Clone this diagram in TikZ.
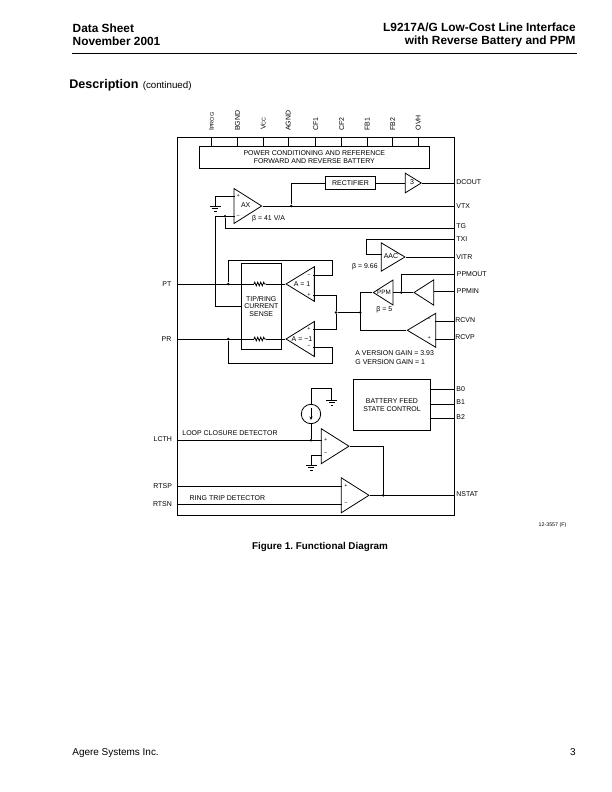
\documentclass[tikz,border=0pt]{standalone}
\usepackage{fontspec}
\setmainfont{Liberation Sans}
\usetikzlibrary{arrows.meta, positioning, decorations.pathmorphing, shapes.geometric}
\newcommand{\lblfont}{\fontsize{7}{8}\selectfont}
\newcommand{\subfont}{\fontsize{5.5}{6}\selectfont}
\frenchspacing

\begin{document}
\begin{tikzpicture}[
    x=1bp, y=-1bp,
    line width=0.8bp,
    block/.style={rectangle, draw, inner sep=0pt, align=center, font=\lblfont},
    lbl/.style={inner sep=0pt, align=left, font=\lblfont},
    sign/.style={inner sep=0pt, font=\subfont},
    toppin/.style={rotate=90, anchor=west, inner sep=0pt, font=\lblfont},
    rightpin/.style={inner sep=0pt, font=\lblfont},
    leftpin/.style={inner sep=0pt, font=\lblfont, anchor=east},
    ampr/.style={draw, isosceles triangle, isosceles triangle stretches, inner sep=0pt, anchor=apex},
    ampl/.style={ampr, shape border rotate=180},
    dot/.style={circle, fill=black, inner sep=0pt, minimum size=2.8bp},
    res/.style={decorate, decoration={zigzag, segment length=3bp, amplitude=1.8bp}},
    arrow/.style={-{Stealth[length=3.5bp, width=3bp]}},
    gnd/.pic={
        \draw (-5.3,0) -- (5.3,0);
        \draw (-3,2.6) -- (3,2.6);
        \draw (-1.2,5.2) -- (1.2,5.2);
    }
]
    \useasboundingbox (0,0) rectangle (612,792);

    % page head
    \node[anchor=west, inner sep=0pt, align=left, font=\fontsize{11.9}{12.8}\selectfont\bfseries] (head) at (72.3,35) {Data Sheet\\November 2001};
    \node[anchor=east, inner sep=0pt, align=right, font=\fontsize{11.9}{12.8}\selectfont\bfseries] (title) at (576,35) {L9217A/G Low-Cost Line Interface\\with Reverse Battery and PPM};
    \coordinate (rulel) at (72,53.6);
    \coordinate (ruler) at (577,53.6);
    \draw[line width=0.8bp] (rulel) -- (ruler);
    \node[anchor=west, inner sep=0pt, font=\fontsize{12.6}{14}\selectfont\bfseries] (desc) at (69,85.7) {Description};
    \node[right=3.5bp of desc, inner sep=0pt, font=\fontsize{9.8}{11}\selectfont] (cont) {(continued)};

    % outer frame and top blocks
    \node[block, anchor=north west, minimum width=277bp, minimum height=378.3bp] (frame) at (176.5,136.7) {};
    \node[block, minimum width=230bp, minimum height=22bp] (power) at (314.3,157.3) {POWER CONDITIONING AND REFERENCE\\FORWARD AND REVERSE BATTERY};
    \node[block, minimum width=50.4bp, minimum height=13bp] (rectifier) at (350.5,183) {RECTIFIER};
    \node[block, minimum width=40bp, minimum height=85.6bp] (sense) at (261.3,306.5) {TIP/RING\\CURRENT\\SENSE};
    \node[block, minimum width=77.4bp, minimum height=51bp] (battery) at (392,404.8) {BATTERY FEED\\STATE CONTROL};

    % top pins
    \coordinate (iprog) at (211.5,136.7);
    \coordinate (bgnd) at (237.5,136.7);
    \coordinate (vcc) at (263.3,136.7);
    \coordinate (agnd) at (288.3,136.7);
    \coordinate (cfa) at (315.7,136.7);
    \coordinate (cfb) at (341.7,136.7);
    \coordinate (fba) at (367.3,136.7);
    \coordinate (fbb) at (392.7,136.7);
    \coordinate (ovh) at (418.3,136.7);
    \node[above=5.5bp of iprog, toppin] (iprogl) {I{\subfont PROG}};
    \node[above=5.5bp of bgnd, toppin] (bgndl) {BGND};
    \node[above=6.5bp of vcc, toppin] (vccl) {V{\subfont CC}};
    \node[above=5.5bp of agnd, toppin] (agndl) {AGND};
    \node[above=6bp of cfa, toppin] (cfal) {CF1};
    \node[above=6bp of cfb, toppin] (cfbl) {CF2};
    \node[above=6bp of fba, toppin] (fbal) {FB1};
    \node[above=6bp of fbb, toppin] (fbbl) {FB2};
    \node[above=6bp of ovh, toppin] (ovhl) {OVH};
    \draw (iprog) -- (iprog |- power.north);
    \draw (bgnd) -- (bgnd |- power.north);
    \draw (vcc) -- (vcc |- power.north);
    \draw (agnd) -- (agnd |- power.north);
    \draw (cfa) -- (cfa |- power.north);
    \draw (cfb) -- (cfb |- power.north);
    \draw (fba) -- (fba |- power.north);
    \draw (fbb) -- (fbb |- power.north);
    \draw (ovh) -- (ovh |- power.north);

    % right pins
    \coordinate (dcout) at (453.5,183);
    \coordinate (vtx) at (453.5,206);
    \coordinate (tg) at (453.5,228.3);
    \coordinate (txi) at (453.5,239.3);
    \coordinate (vitr) at (453.5,257);
    \coordinate (ppmout) at (453.5,274.3);
    \coordinate (ppmin) at (453.5,291);
    \coordinate (rcvn) at (453.5,321.3);
    \coordinate (rcvp) at (453.5,339);
    \coordinate (bzero) at (453.5,389.3);
    \coordinate (bone) at (453.5,404.3);
    \coordinate (btwo) at (453.5,418.3);
    \coordinate (nstat) at (453.5,495.3);
    \node[rightpin, right=2.5bp of dcout, yshift=1bp] (dcoutl) {DCOUT};
    \node[rightpin, right=2.5bp of vtx] (vtxl) {VTX};
    \node[rightpin, right=2.5bp of tg, yshift=2bp] (tgl) {TG};
    \node[rightpin, right=2.5bp of txi] (txil) {TXI};
    \node[rightpin, right=2.5bp of vitr] (vitrl) {VITR};
    \node[rightpin, right=3bp of ppmout] (ppmoutl) {PPMOUT};
    \node[rightpin, right=3bp of ppmin] (ppminl) {PPMIN};
    \node[rightpin, right=1.5bp of rcvn, yshift=1.5bp] (rcvnl) {RCVN};
    \node[rightpin, right=1.5bp of rcvp, yshift=1.5bp] (rcvpl) {RCVP};
    \node[rightpin, right=2.5bp of bzero] (bzerol) {B0};
    \node[rightpin, right=2.5bp of bone, yshift=2bp] (bonel) {B1};
    \node[rightpin, right=2.5bp of btwo, yshift=1bp] (btwol) {B2};
    \node[rightpin, right=2.5bp of nstat, yshift=1bp] (nstatl) {NSTAT};

    % left pins
    \coordinate (pt) at (176.5,284);
    \coordinate (pr) at (176.5,339);
    \coordinate (lcth) at (176.5,440.3);
    \coordinate (rtsp) at (176.5,486.3);
    \coordinate (rtsn) at (176.5,504.3);
    \node[leftpin, left=4.8bp of pt, anchor=east] (ptl) {PT};
    \node[leftpin, left=4.8bp of pr, anchor=east] (prl) {PR};
    \node[leftpin, left=4.2bp of lcth, anchor=east, yshift=1bp] (lcthl) {LCTH};
    \node[leftpin, left=4.2bp of rtsp, anchor=east] (rtspl) {RTSP};
    \node[leftpin, left=4.2bp of rtsn, anchor=east] (rtsnl) {RTSN};

    % amplifiers
    \node[ampr, minimum height=27.7bp, minimum width=35bp] (ax) at (262.7,206) {};
    \node[ampr, minimum height=16bp, minimum width=19.7bp] (buf) at (422.3,183) {};
    \node[ampr, minimum height=23.7bp, minimum width=28.3bp] (aac) at (406,257) {};
    \node[ampl, minimum height=19.7bp, minimum width=25bp] (ppm) at (372.3,292.5) {};
    \node[ampl, minimum height=19.7bp, minimum width=25.3bp] (ppmbuf) at (413,292.5) {};
    \node[ampl, minimum height=28.4bp, minimum width=34bp] (rcv) at (406.3,330.3) {};
    \node[ampl, minimum height=28.3bp, minimum width=34.6bp] (ampt) at (285,284) {};
    \node[ampl, minimum height=28.3bp, minimum width=35bp] (ampr) at (285,339) {};
    \node[ampr, minimum height=27.7bp, minimum width=35bp] (lcd) at (350,446.2) {};
    \node[ampr, minimum height=27.7bp, minimum width=35bp] (rtd) at (370,495.3) {};

    % amplifier texts
    \node[lbl] (axt) at (245.7,204.7) {AX};
    \node[lbl] (buft) at (412,182.5) {3};
    \node[lbl] (aact) at (391,256.3) {AAC};
    \node[lbl, font=\fontsize{6.3}{7}\selectfont] (ppmt) at (384,292) {PPM};
    \node[lbl] (amptt) at (302,284) {A = 1};
    \node[lbl] (amprt) at (302,339) {A = −1};
    \node[sign] (axplus) at (238.3,196.3) {+};
    \node[sign] (axminus) at (238.3,216.3) {−};
    \node[sign] (amptm) at (309,275) {−};
    \node[sign] (amptp) at (309,295) {+};
    \node[sign] (amprp) at (309,329.3) {+};
    \node[sign] (amprm) at (309,346) {−};
    \node[sign] (rcvm) at (429.3,319.7) {−};
    \node[sign] (rcvpl) at (429.3,338.3) {+};
    \node[sign] (lcdp) at (325.7,440.3) {+};
    \node[sign] (lcdm) at (325.7,453.7) {−};
    \node[sign] (rtdp) at (346,486.3) {+};
    \node[sign] (rtdm) at (346,503.3) {−};

    % free labels
    \node[lbl, anchor=west] (betaax) at (251.7,219) {β = 41 V/A};
    \node[lbl, anchor=west] (betaaac) at (351.7,266.7) {β = 9.66};
    \node[lbl, anchor=west] (betappm) at (376,309.7) {β = 5};
    \node[lbl, anchor=west] (gaina) at (355,352.7) {A VERSION GAIN = 3.93};
    \node[lbl, anchor=west] (gaing) at (355,361.7) {G VERSION GAIN = 1};
    \node[lbl, anchor=west] (loopl) at (182,433.3) {LOOP CLOSURE DETECTOR};
    \node[lbl, anchor=west] (ringl) at (189.3,498.3) {RING TRIP DETECTOR};
    \node[inner sep=0pt, anchor=east, font=\fontsize{5.3}{6}\selectfont] (figno) at (566.7,525) {12-3557 (F)};
    \node[inner sep=0pt, font=\fontsize{9.9}{11}\selectfont\bfseries] (caption) at (320,547.3) {Figure 1. Functional Diagram};
    \node[anchor=west, inner sep=0pt, font=\fontsize{10}{12}\selectfont] (foot) at (72,752.8) {Agere Systems Inc.};
    \node[anchor=east, inner sep=0pt, font=\fontsize{10}{12}\selectfont] (pageno) at (576,752.5) {3};

    % AX stage
    \coordinate (axp) at (235,196.3);
    \coordinate (axm) at (235,216.3);
    \coordinate (axg) at (215.3,206);
    \coordinate (axfb) at (215.3,216.3);
    \coordinate (sensein) at (241.3,306);
    \node[dot] (jvtx) at (291.3,206) {};
    \node[dot] (jaxm) at (225,216.3) {};
    \draw (axp) -| (axg);
    \pic at (axg) {gnd};
    \draw (axm) -- (axfb) |- (sensein);
    \draw (jaxm) |- (tg);
    \draw (ax.apex) -- (vtx);
    \draw (jvtx) |- (rectifier.west);
    \draw (rectifier.east) -- (buf.lower side);
    \draw (buf.apex) -- (dcout);

    % AAC stage
    \coordinate (aacm) at (382.3,254.3);
    \coordinate (txic) at (366,239.3);
    \draw (txi) -- (txic) |- (aacm);
    \draw (aac.apex) -- (vitr);

    % PPM stage
    \node[dot] (jppm) at (401.3,292.5) {};
    \node[dot] (jsum) at (360.3,312.5) {};
    \node[dot] (jamp) at (336,312.5) {};
    \coordinate (ppmc) at (360.3,292.5);
    \coordinate (rcvc) at (360.3,330.3);
    \coordinate (rcvminus) at (434.7,321.3);
    \coordinate (rcvplus) at (434.7,339);
    \draw (ppmin) -- (ppmin -| ppmbuf.lower side);
    \draw (ppmbuf.apex) -- (ppm.lower side);
    \draw (jppm) |- (ppmout);
    \draw (ppm.apex) -- (ppmc) -- (rcvc) -- (rcv.apex);
    \draw (jamp) -- (jsum);
    \draw (rcvminus) -- (rcvn);
    \draw (rcvplus) -- (rcvp);

    % tip/ring sense
    \node[dot] (jpt) at (228.3,284) {};
    \node[dot] (jpr) at (228.3,339) {};
    \coordinate (rpta) at (254,284);
    \coordinate (rptb) at (266,284);
    \coordinate (rpra) at (254,339);
    \coordinate (rprb) at (266,339);
    \coordinate (amptminus) at (313.3,275);
    \coordinate (amptplus) at (313.3,295);
    \coordinate (amprplus) at (313.3,329.3);
    \coordinate (amprminus) at (313.3,347.3);
    \coordinate (fbtr) at (332.7,260.3);
    \coordinate (fbbr) at (332.7,363.7);
    \draw (pt) -- (rpta);
    \draw[res] (rpta) -- (rptb);
    \draw (rptb) -- (ampt.apex);
    \draw (pr) -- (rpra);
    \draw[res] (rpra) -- (rprb);
    \draw (rprb) -- (ampr.apex);
    \draw (amptminus) -| (fbtr) -| (jpt);
    \draw (amprminus) -| (fbbr) -| (jpr);
    \draw (amptplus) -| (jamp);
    \draw (amprplus) -| (jamp);

    % battery feed
    \draw (bzero) -- (bzero -| battery.east);
    \draw (bone) -- (bone -| battery.east);
    \draw (btwo) -- (btwo -| battery.east);

    % detectors
    \node[circle, draw, inner sep=0pt, minimum size=19.4bp] (isrc) at (311,414) {};
    \node[dot] (jlcth) at (311,440.3) {};
    \node[dot] (jnstat) at (383.3,495.3) {};
    \coordinate (isrcturn) at (311,388.7);
    \coordinate (isrcg) at (331.7,400);
    \coordinate (lcdplus) at (322.3,440.3);
    \coordinate (lcdminus) at (322.3,455.3);
    \coordinate (lcdg) at (311.3,465);
    \coordinate (rtdplus) at (342.3,486.3);
    \coordinate (rtdminus) at (342.3,504.3);
    \draw (isrc) -- (isrcturn) -| (isrcg);
    \pic at (isrcg) {gnd};
    \draw (isrc) -- (jlcth);
    \draw[arrow] ([yshift=6bp]isrc.center) -- ([yshift=-6bp]isrc.center);
    \draw (lcth) -- (lcdplus);
    \draw (lcdminus) -| (lcdg);
    \pic at (lcdg) {gnd};
    \draw (lcd.apex) -| (jnstat);
    \draw (rtsp) -- (rtdplus);
    \draw (rtsn) -- (rtdminus);
    \draw (rtd.apex) -- (nstat);
\end{tikzpicture}
\end{document}
